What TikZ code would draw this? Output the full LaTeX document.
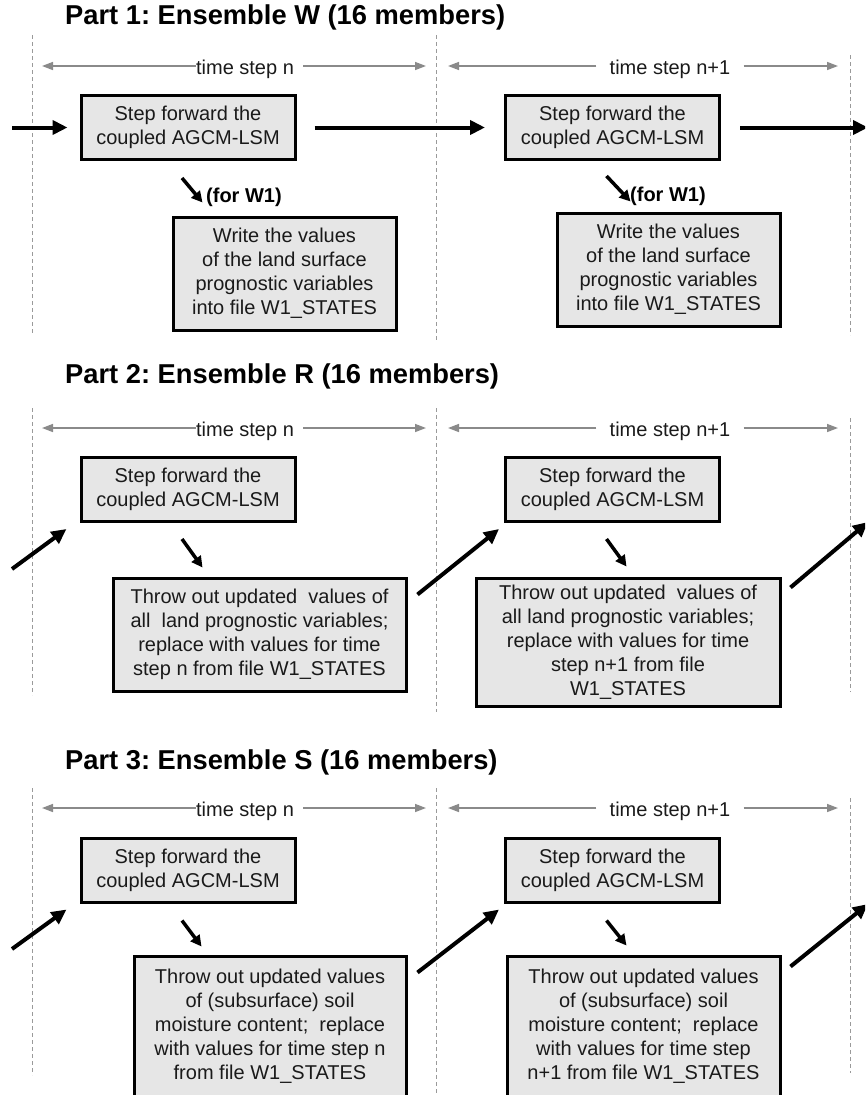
\documentclass[tikz,border=0pt]{standalone}
\usepackage{fontspec}
\setmainfont{Liberation Sans}
\usetikzlibrary{arrows.meta}
\definecolor{boxgray}{HTML}{E6E6E6}
\definecolor{txt}{HTML}{1A1A1A}
\definecolor{guidegray}{HTML}{9A9A9A}
\definecolor{tgray}{HTML}{8A8A8A}
\frenchspacing
\begin{document}
\begin{tikzpicture}[x=1pt,y=-1pt,
  box/.style={draw=black, line width=3pt, fill=boxgray, inner sep=0pt, align=center,
    font=\fontsize{20}{24}\selectfont, text=txt},
  ttl/.style={anchor=base west, inner sep=0pt, font=\bfseries\fontsize{27.3}{32}\selectfont, text=black},
  tlab/.style={anchor=base, inner sep=0pt, font=\fontsize{20}{24}\selectfont, text=txt},
  forlab/.style={anchor=west, inner sep=0pt, font=\bfseries\fontsize{20}{24}\selectfont, text=black},
  guide/.style={draw=guidegray, line width=1pt, dash pattern=on 4pt off 3pt},
  tarrow/.style={draw=tgray, line width=1.5pt, -{Triangle[length=11pt,width=8pt]}},
  bigarrow/.style={draw=black, line width=4pt, -{Triangle[length=15pt,width=14pt]}},
  smallarrow/.style={draw=black, line width=3.5pt, -{Triangle[length=11pt,width=11pt]}}
]
\useasboundingbox (0,0) rectangle (865,1095);
\clip (0,0) rectangle (865,1095);

% ================= Part 1 =================
\node[ttl] (T1) at (65,24) {Part 1: Ensemble W (16 members)};
\draw[guide] (32,35) -- (32,333);
\draw[guide] (436,35) -- (436,340);
\draw[guide] (850,55) -- (850,335);

\node[tlab] (n1) at (245,74) {time step n};
\coordinate (n1l) at (42,66); \coordinate (n1r) at (426,66);
\draw[tarrow] (n1.west |- n1l) -- (n1l);
\draw[tarrow, shorten <=9pt] (n1.east |- n1r) -- (n1r);
\node[tlab] (m1) at (670,74) {time step n+1};
\coordinate (m1l) at (448,66); \coordinate (m1r) at (838,66);
\draw[tarrow, shorten <=13pt] (m1.west |- m1l) -- (m1l);
\draw[tarrow, shorten <=13pt] (m1.east |- m1r) -- (m1r);

\node[box, minimum width=214pt, minimum height=64pt] (A1) at (188,127.5) {Step forward the\\coupled AGCM-LSM};
\node[box, minimum width=214pt, minimum height=64pt] (C1) at (612.5,127.5) {Step forward the\\coupled AGCM-LSM};
\node[box, minimum width=223pt, minimum height=113pt] (B1) at (284.5,273.5) {Write the values\\of the land surface\\prognostic variables\\into file W1\_STATES};
\node[box, minimum width=223pt, minimum height=113pt] (D1) at (668.5,269.5) {Write the values\\of the land surface\\prognostic variables\\into file W1\_STATES};

\coordinate (in1) at (12,127.5);
\coordinate (out1) at (868,127.5);
\draw[bigarrow, shorten >=12pt] (in1) -- (A1.west);
\draw[bigarrow, shorten <=18pt, shorten >=19pt] (A1.east) -- (C1.west);
\draw[bigarrow, shorten <=19pt] (C1.east) -- (out1);
\draw[smallarrow] ([shift={(-6,17)}]A1.south) -- ([shift={(31,-13)}]B1.north west);
\node[forlab] (f1) at (206,197) {(for W1)};
\draw[smallarrow] ([shift={(-6,15)}]C1.south) -- ([shift={(75,-10)}]D1.north west);
\node[forlab] (g1) at (630,196) {(for W1)};

% ================= Part 2 =================
\node[ttl] (T2) at (65,383) {Part 2: Ensemble R (16 members)};
\draw[guide] (32,408) -- (32,695);
\draw[guide] (436,408) -- (436,712);
\draw[guide] (850,418) -- (850,692);

\node[tlab] (n2) at (245,436) {time step n};
\coordinate (n2l) at (42,428); \coordinate (n2r) at (426,428);
\draw[tarrow] (n2.west |- n2l) -- (n2l);
\draw[tarrow, shorten <=9pt] (n2.east |- n2r) -- (n2r);
\node[tlab] (m2) at (670,436) {time step n+1};
\coordinate (m2l) at (448,428); \coordinate (m2r) at (838,428);
\draw[tarrow, shorten <=13pt] (m2.west |- m2l) -- (m2l);
\draw[tarrow, shorten <=13pt] (m2.east |- m2r) -- (m2r);

\node[box, minimum width=214pt, minimum height=64pt] (A2) at (188,489.5) {Step forward the\\coupled AGCM-LSM};
\node[box, minimum width=214pt, minimum height=64pt] (C2) at (612.5,489.5) {Step forward the\\coupled AGCM-LSM};
\node[box, minimum width=293pt, minimum height=113pt] (B2) at (259.5,634.5) {Throw out updated\ \ values of\\all\ \ land prognostic variables;\\replace with values for time\\step n from file W1\_STATES};
\node[box, minimum width=304pt, minimum height=128pt] (D2) at (628,642) {Throw out updated\ \ values of\\all land prognostic variables;\\replace with values for time\\step n+1 from file\\W1\_STATES};

\coordinate (in2) at (12,569);
\coordinate (out2) at (868,522);
\draw[bigarrow] (in2) -- ([shift={(-13,6)}]A2.south west);
\draw[smallarrow] ([shift={(-6,16)}]A2.south) -- ([shift={(91,-9)}]B2.north west);
\draw[bigarrow] ([shift={(10,18)}]B2.north east) -- ([shift={(-5,6)}]C2.south west);
\draw[smallarrow] ([shift={(-6,16)}]C2.south) -- ([shift={(152,-10)}]D2.north west);
\draw[bigarrow] ([shift={(9,11)}]D2.north east) -- (out2);

% ================= Part 3 =================
\node[ttl] (T3) at (65,769) {Part 3: Ensemble S (16 members)};
\draw[guide] (32,788) -- (32,1075);
\draw[guide] (436,788) -- (436,1095);
\draw[guide] (850,798) -- (850,1073);

\node[tlab] (n3) at (245,816) {time step n};
\coordinate (n3l) at (42,808); \coordinate (n3r) at (426,808);
\draw[tarrow] (n3.west |- n3l) -- (n3l);
\draw[tarrow, shorten <=9pt] (n3.east |- n3r) -- (n3r);
\node[tlab] (m3) at (670,816) {time step n+1};
\coordinate (m3l) at (448,808); \coordinate (m3r) at (838,808);
\draw[tarrow, shorten <=13pt] (m3.west |- m3l) -- (m3l);
\draw[tarrow, shorten <=13pt] (m3.east |- m3r) -- (m3r);

\node[box, minimum width=214pt, minimum height=64pt] (A3) at (188,870) {Step forward the\\coupled AGCM-LSM};
\node[box, minimum width=214pt, minimum height=64pt] (C3) at (612.5,870) {Step forward the\\coupled AGCM-LSM};
\node[box, minimum width=272pt, minimum height=140pt] (B3) at (270,1026) {Throw out updated values\\of (subsurface) soil\\moisture content;\ \ replace\\with values for time step n\\from file W1\_STATES};
\node[box, minimum width=273pt, minimum height=140pt] (D3) at (643.5,1026) {Throw out updated values\\of (subsurface) soil\\moisture content;\ \ replace\\with values for time step\\n+1 from file W1\_STATES};

\coordinate (in3) at (12,949);
\coordinate (out3) at (868,904);
\draw[bigarrow] (in3) -- ([shift={(-13,6)}]A3.south west);
\draw[smallarrow] ([shift={(-6,17)}]A3.south) -- ([shift={(69,-8)}]B3.north west);
\draw[bigarrow] ([shift={(10,18)}]B3.north east) -- ([shift={(-5,6)}]C3.south west);
\draw[smallarrow] ([shift={(-6,17)}]C3.south) -- ([shift={(121,-9)}]D3.north west);
\draw[bigarrow] ([shift={(9,12)}]D3.north east) -- (out3);
\end{tikzpicture}
\end{document}
